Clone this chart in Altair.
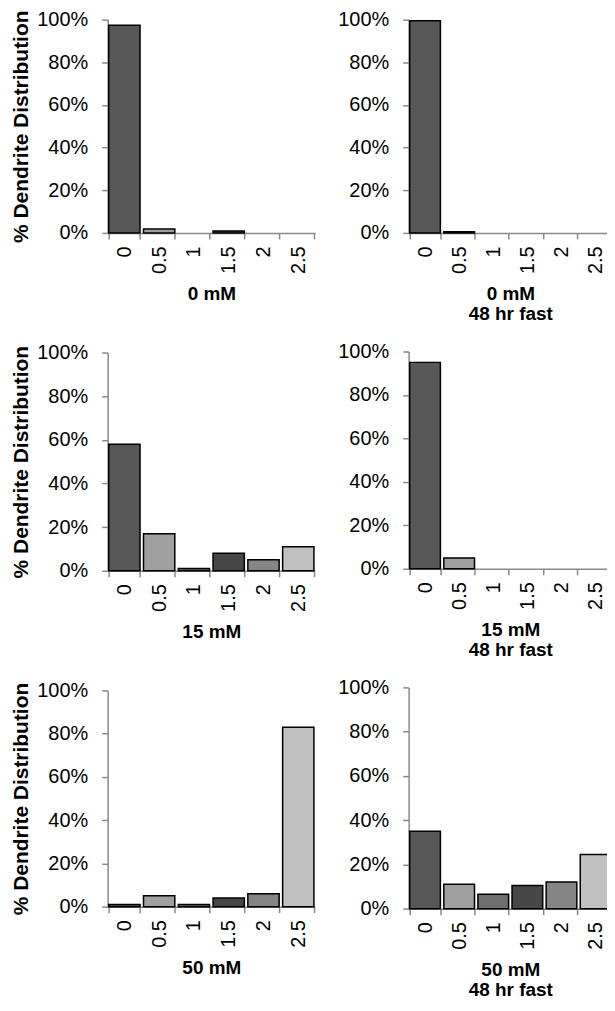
import altair as alt
import pandas as pd

categories = ["0", "0.5", "1", "1.5", "2", "2.5"]
bar_colors = ["#575757", "#a0a0a0", "#6f6f6f", "#474747", "#858585", "#c0c0c0"]

vals_0mM = [97.4, 1.8, 0, 0.9, 0, 0]
vals_0mM_fast = [99.5, 0.5, 0, 0, 0, 0]
vals_15mM = [58, 17, 1, 8, 5, 11]
vals_15mM_fast = [95, 5, 0, 0, 0, 0]
vals_50mM = [1, 5, 1, 4, 6, 83]
vals_50mM_fast = [35, 11, 6.5, 10.5, 12, 24.5]

titles_left = ["0 mM", "15 mM", "50 mM"]
titles_right = [["0 mM", "48 hr fast"], ["15 mM", "48 hr fast"], ["50 mM", "48 hr fast"]]
y_title = "% Dendrite Distribution"
y_ticks = [0, 0.2, 0.4, 0.6, 0.8, 1.0]

FONT = "Liberation Sans"
GRAY = "#898989"


def panel(values, xtitle, width, height, with_ytitle):
    df = pd.DataFrame({"cat": categories, "value": [v / 100 for v in values]})
    yaxis_kw = dict(values=y_ticks, format=".0%", labelPadding=14, tickSize=6)
    if with_ytitle:
        yaxis_kw.update(title=y_title, titleFontSize=21, titleFont=FONT,
                        titleFontWeight="bold", titleColor="black", titlePadding=5)
    else:
        yaxis_kw.update(title=None)
    return (
        alt.Chart(df)
        .transform_filter("datum.value > 0")
        .mark_bar(stroke="black", strokeWidth=1.5)
        .encode(
            x=alt.X(
                "cat:N",
                sort=categories,
                scale=alt.Scale(domain=categories, paddingInner=0.1, paddingOuter=0.03),
                axis=alt.Axis(
                    title=xtitle,
                    labelAngle=270,
                    tickBand="extent",
                    labelPadding=7,
                    tickSize=6,
                    titleFontSize=19,
                    titleFont=FONT,
                    titleFontWeight="bold",
                    titleColor="black",
                    titlePadding=11,
                    titleLineHeight=20,
                ),
            ),
            y=alt.Y("value:Q", scale=alt.Scale(domain=[0, 1]), axis=alt.Axis(**yaxis_kw)),
            color=alt.Color("cat:N", scale=alt.Scale(domain=categories, range=bar_colors), legend=None),
        )
        .properties(width=width, height=height)
    )


left = alt.vconcat(
    panel(vals_0mM, titles_left[0], 208, 214, True),
    panel(vals_15mM, titles_left[1], 208, 219, True),
    panel(vals_50mM, titles_left[2], 208, 217, True),
    spacing=120,
    bounds="flush",
)
right = alt.vconcat(
    panel(vals_0mM_fast, titles_right[0], 204, 214, False),
    panel(vals_15mM_fast, titles_right[1], 204, 218, False),
    panel(vals_50mM_fast, titles_right[2], 204, 222, False),
    spacing=119,
    bounds="flush",
)

chart = (
    alt.hconcat(left, right, spacing=22)
    .properties(padding={"left": 2, "top": 0, "right": -5, "bottom": 0})
    .configure_view(stroke=None)
    .configure_axis(
        grid=False,
        domainColor=GRAY,
        domainWidth=1.5,
        tickColor=GRAY,
        tickWidth=1.5,
        labelFont=FONT,
        labelFontSize=20,
        labelColor="black",
    )
)

chart.save("out.html", embed_options={"renderer": "svg", "actions": False})
